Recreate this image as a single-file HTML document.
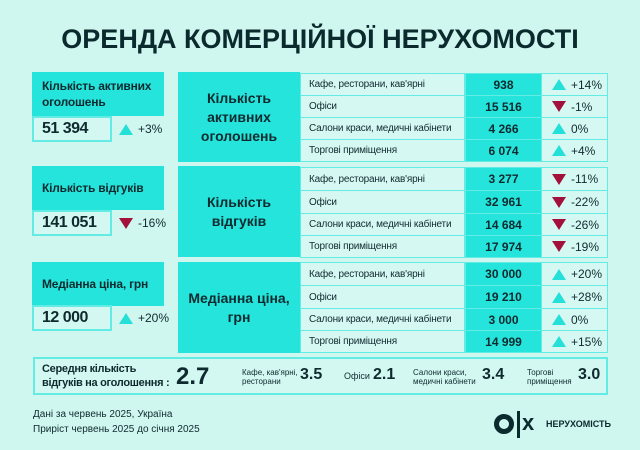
<!DOCTYPE html>
<html><head><meta charset="utf-8"><style>
*{margin:0;padding:0;box-sizing:border-box}
body{width:640px;height:450px;background:#cff6ef;font-family:"Liberation Sans","DejaVu Sans",sans-serif;color:#0f2a2e;position:relative;overflow:hidden}
.a{position:absolute}
.title{left:0;width:640px;top:24px;text-align:center;font-size:27px;font-weight:bold;letter-spacing:0;color:#0b2a2e}
.hd{background:#24e4dc;font-weight:bold;font-size:12px;padding-left:10px;display:flex;align-items:center;line-height:16px;letter-spacing:-0.2px}
.val{border:2px solid #62ece4;background:#d3f8f2;font-weight:bold;font-size:16px;padding-left:8px;display:flex;align-items:center;letter-spacing:-0.5px}
.chg{font-size:12px;display:flex;align-items:center;gap:5px}
.up{width:0;height:0;border-left:7px solid transparent;border-right:7px solid transparent;border-bottom:11px solid #24e0d8}
.dn{width:0;height:0;border-left:7px solid transparent;border-right:7px solid transparent;border-top:11px solid #a3103c}
.mid{background:#24e4dc;font-weight:bold;font-size:14px;text-align:center;display:flex;align-items:center;justify-content:center;line-height:19px}
.lab{background:#d6f8f3;border:1px solid #62ece4;font-size:10px;padding-left:8px;display:flex;align-items:center;white-space:nowrap;letter-spacing:-0.2px}
.num{background:#24e4dc;border:1px solid #62ece4;font-weight:bold;font-size:12px;display:flex;align-items:center;justify-content:center}
.pc{background:#d6f8f3;border:1px solid #62ece4;font-size:12px;display:flex;align-items:center;padding-left:10px;gap:5px}
</style></head><body>
<div class="a title">ОРЕНДА КОМЕРЦІЙНОЇ НЕРУХОМОСТІ</div>

<div class="a hd" style="left:32px;top:72px;width:132px;height:44px">Кількість активних<br>оголошень</div>
<div class="a val" style="left:32px;top:116px;width:80px;height:26px">51 394</div>
<div class="a chg" style="left:119px;top:116px;height:26px"><span class="up"></span>+3%</div>

<div class="a hd" style="left:32px;top:166px;width:132px;height:44px">Кількість відгуків</div>
<div class="a val" style="left:32px;top:210px;width:80px;height:26px">141 051</div>
<div class="a chg" style="left:119px;top:210px;height:26px"><span class="dn"></span>-16%</div>

<div class="a hd" style="left:32px;top:262px;width:132px;height:44px">Медіанна ціна, грн</div>
<div class="a val" style="left:32px;top:305px;width:80px;height:26px">12 000</div>
<div class="a chg" style="left:119px;top:305px;height:26px"><span class="up"></span>+20%</div>

<div class="a mid" style="left:178px;top:72px;width:122px;height:90px">Кількість<br>активних<br>оголошень</div>
<div class="a mid" style="left:178px;top:166px;width:122px;height:91px">Кількість<br>відгуків</div>
<div class="a mid" style="left:178px;top:262px;width:122px;height:91px">Медіанна ціна,<br>грн</div>

<div class="a lab" style="left:300px;top:73px;width:165px;height:23px">Кафе, ресторани, кав'ярні</div>
<div class="a num" style="left:465px;top:73px;width:77px;height:23px">938</div>
<div class="a pc" style="left:541px;top:73px;width:67px;height:23px"><span class="up"></span>+14%</div>
<div class="a lab" style="left:300px;top:95px;width:165px;height:23px">Офіси</div>
<div class="a num" style="left:465px;top:95px;width:77px;height:23px">15 516</div>
<div class="a pc" style="left:541px;top:95px;width:67px;height:23px"><span class="dn"></span>-1%</div>
<div class="a lab" style="left:300px;top:117px;width:165px;height:23px">Салони краси, медичні кабінети</div>
<div class="a num" style="left:465px;top:117px;width:77px;height:23px">4 266</div>
<div class="a pc" style="left:541px;top:117px;width:67px;height:23px"><span class="up"></span>0%</div>
<div class="a lab" style="left:300px;top:139px;width:165px;height:23px">Торгові приміщення</div>
<div class="a num" style="left:465px;top:139px;width:77px;height:23px">6 074</div>
<div class="a pc" style="left:541px;top:139px;width:67px;height:23px"><span class="up"></span>+4%</div>

<div class="a lab" style="left:300px;top:167px;width:165px;height:24px">Кафе, ресторани, кав'ярні</div>
<div class="a num" style="left:465px;top:167px;width:77px;height:24px">3 277</div>
<div class="a pc" style="left:541px;top:167px;width:67px;height:24px"><span class="dn"></span>-11%</div>
<div class="a lab" style="left:300px;top:190px;width:165px;height:24px">Офіси</div>
<div class="a num" style="left:465px;top:190px;width:77px;height:24px">32 961</div>
<div class="a pc" style="left:541px;top:190px;width:67px;height:24px"><span class="dn"></span>-22%</div>
<div class="a lab" style="left:300px;top:213px;width:165px;height:23px">Салони краси, медичні кабінети</div>
<div class="a num" style="left:465px;top:213px;width:77px;height:23px">14 684</div>
<div class="a pc" style="left:541px;top:213px;width:67px;height:23px"><span class="dn"></span>-26%</div>
<div class="a lab" style="left:300px;top:235px;width:165px;height:23px">Торгові приміщення</div>
<div class="a num" style="left:465px;top:235px;width:77px;height:23px">17 974</div>
<div class="a pc" style="left:541px;top:235px;width:67px;height:23px"><span class="dn"></span>-19%</div>

<div class="a lab" style="left:300px;top:262px;width:165px;height:24px">Кафе, ресторани, кав'ярні</div>
<div class="a num" style="left:465px;top:262px;width:77px;height:24px">30 000</div>
<div class="a pc" style="left:541px;top:262px;width:67px;height:24px"><span class="up"></span>+20%</div>
<div class="a lab" style="left:300px;top:285px;width:165px;height:24px">Офіси</div>
<div class="a num" style="left:465px;top:285px;width:77px;height:24px">19 210</div>
<div class="a pc" style="left:541px;top:285px;width:67px;height:24px"><span class="up"></span>+28%</div>
<div class="a lab" style="left:300px;top:308px;width:165px;height:23px">Салони краси, медичні кабінети</div>
<div class="a num" style="left:465px;top:308px;width:77px;height:23px">3 000</div>
<div class="a pc" style="left:541px;top:308px;width:67px;height:23px"><span class="up"></span>0%</div>
<div class="a lab" style="left:300px;top:330px;width:165px;height:23px">Торгові приміщення</div>
<div class="a num" style="left:465px;top:330px;width:77px;height:23px">14 999</div>
<div class="a pc" style="left:541px;top:330px;width:67px;height:23px"><span class="up"></span>+15%</div>

<div class="a" style="left:33px;top:357px;width:575px;height:38px;border:2px solid #62ece4;background:#d3f8f2"></div>
<div class="a" style="left:42px;top:362px;font-size:11px;font-weight:bold;line-height:14px;letter-spacing:-0.3px">Середня кількість<br>відгуків на оголошення :</div>
<div class="a" style="left:176px;top:363px;font-size:24px;font-weight:bold">2.7</div>
<div class="a" style="left:242px;top:368px;font-size:8px;line-height:9px">Кафе, кав'ярні,<br>ресторани</div>
<div class="a" style="left:300px;top:366px;font-size:16px;font-weight:bold">3.5</div>
<div class="a" style="left:344px;top:371px;font-size:9px">Офіси</div>
<div class="a" style="left:373px;top:366px;font-size:16px;font-weight:bold">2.1</div>
<div class="a" style="left:413px;top:368px;font-size:8px;line-height:9px">Салони краси,<br>медичні кабінети</div>
<div class="a" style="left:482px;top:366px;font-size:16px;font-weight:bold">3.4</div>
<div class="a" style="left:527px;top:368px;font-size:8px;line-height:9px">Торгові<br>приміщення</div>
<div class="a" style="left:578px;top:366px;font-size:16px;font-weight:bold">3.0</div>

<div class="a" style="left:33px;top:407px;font-size:10px;line-height:15px">Дані за червень 2025, Україна<br>Приріст червень 2025 до січня 2025</div>

<div class="a" style="left:494px;top:414px;width:20px;height:20px;border:5px solid #0b2a2e;border-radius:50%"></div>
<div class="a" style="left:517px;top:411px;width:3px;height:27px;background:#0b2a2e"></div>
<div class="a" style="left:522px;top:410px;font-size:22px;font-weight:bold;color:#0b2a2e">x</div>
<div class="a" style="left:546px;top:419px;font-size:9px;font-weight:bold;color:#0b2a2e">НЕРУХОМІСТЬ</div>
</body></html>
